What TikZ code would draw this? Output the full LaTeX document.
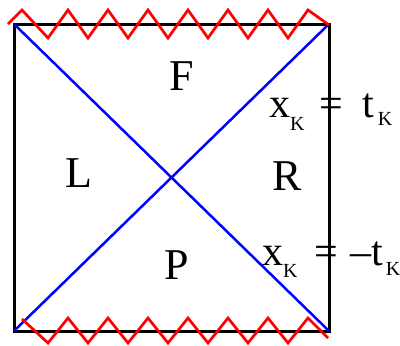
\documentclass[tikz,border=0pt]{standalone}
\usepackage{fontspec}
\setmainfont{Liberation Serif}
\usetikzlibrary{positioning}
\newcommand{\ksub}[1][11pt]{\raisebox{-#1}{\fontsize{20}{20}\selectfont K}}

\begin{document}
\begin{tikzpicture}[x=1pt, y=-1pt,
  edge/.style={line width=3pt, black},
  horizon/.style={line width=2.5pt, blue},
  sing/.style={line width=2.7pt, red},
  region/.style={font=\fontsize{44}{44}\selectfont, inner sep=0pt},
  eqlabel/.style={font=\fontsize{42}{42}\selectfont, inner sep=0pt, anchor=base west}
]
  \useasboundingbox (0,0) rectangle (400,346);

  % Corners of the diagram
  \coordinate (tl) at (14,24);
  \coordinate (tr) at (329,24);
  \coordinate (br) at (329,331);
  \coordinate (bl) at (14,331);

  % Boundary and horizons
  \draw[edge] (tl) -- (tr) -- (br) -- (bl) -- cycle;
  \draw[horizon] (tl) -- (br);
  \draw[horizon] (bl) -- (tr);

  % Singularities
  \draw[sing] (8,24) -- (22,10)
    \foreach \x in {48,88,...,288} { -- (\x,38) -- (\x+20,10) } -- (329,25);
  \draw[sing] (22,319)
    \foreach \x in {48,88,...,288} { -- (\x,343) -- (\x+20,318) } -- (328,338);

  % Regions
  \node[region] (F) at (182,76) {F};
  \node[region] (L) at (79,173) {L};
  \node[region] (R) at (287,176) {R};
  \node[region] (P) at (177,265) {P};

  % Horizon labels
  \node[eqlabel] (hplus) at (269,117)
    {x\ksub[13pt]\hspace{15pt}=\hspace{19pt}t\hspace{4pt}\ksub[8pt]};
  \node[eqlabel] (hminus) at (262,265)
    {x\ksub[12pt]\hspace{17pt}=\hspace{12pt}\textendash t\hspace{3pt}\ksub[10pt]};
\end{tikzpicture}
\end{document}
